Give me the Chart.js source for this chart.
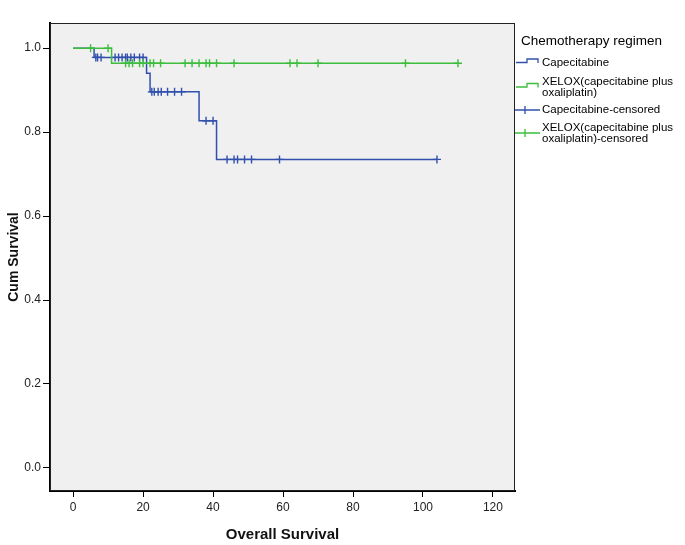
<!DOCTYPE html>
<html>
<head>
<meta charset="utf-8">
<script src="https://cdn.jsdelivr.net/npm/chart.js@4"></script>
<style>
  body { margin: 0; background: #fff; }
  #wrap { width: 685px; height: 545px; }
</style>
</head>
<body>
<div id="wrap"><canvas id="kmChart" width="685" height="545"></canvas></div>
<script>
// Данные кривых Каплана-Мейера
const timeTicks = [0, 20, 40, 60, 80, 100, 120];
const survivalTicks = [0, 0.2, 0.4, 0.6, 0.8, 1.0];

const capeTimes = [0, 6, 21, 22, 36, 41, 104];
const capeSurvival = [1, 0.978, 0.940, 0.896, 0.827, 0.735, 0.735];
const capeCensored = [6.5, 7, 8, 12, 13, 14, 15, 15.5, 16.5, 17.5, 19, 20,
    22.5, 23.2, 24.3, 25.2, 27, 29, 31, 38, 40, 44, 46, 47, 49, 51, 59, 104];

const xeloxTimes = [0, 11, 110];
const xeloxSurvival = [1, 0.964, 0.964];
const xeloxCensored = [5, 10, 15, 16, 17, 19, 20, 22, 23, 25, 32, 34, 36, 38, 39, 41, 46, 62, 64, 70, 95, 110];

const legendTitle = 'Chemotherapy regimen';
const legendItems = [
    { lines: ['Capecitabine'], kind: 'step', color: '#3150ad' },
    { lines: ['XELOX(capecitabine plus', 'oxaliplatin)'], kind: 'step', color: '#3dbd3d' },
    { lines: ['Capecitabine-censored'], kind: 'cross', color: '#3150ad' },
    { lines: ['XELOX(capecitabine plus', 'oxaliplatin)-censored'], kind: 'cross', color: '#3dbd3d' }
];

const BLUE = '#3150ad';
const GREEN = '#3dbd3d';
const FONT = "'Liberation Sans', Arial, sans-serif";

function stepPoints(times, surv) {
    return times.map((t, i) => ({ x: t, y: surv[i] }));
}

// значение кривой в момент цензурирования
function survivalAt(times, surv, t) {
    let s = surv[0];
    for (let i = 0; i < times.length; i++) {
        if (times[i] <= t) s = surv[i];
    }
    return s;
}

function censorPoints(censored, times, surv) {
    return censored.map(t => ({ x: t, y: survivalAt(times, surv, t) }));
}

// фон и рамка области графика
const plotFrame = {
    id: 'plotFrame',
    beforeDatasetsDraw(chart) {
        const { ctx, chartArea: a } = chart;
        ctx.save();
        ctx.fillStyle = '#f0f0f0';
        ctx.fillRect(a.left, a.top, a.right - a.left, a.bottom - a.top);
        ctx.strokeStyle = '#222';
        ctx.lineWidth = 1;
        ctx.strokeRect(a.left + 0.5, a.top + 0.5, a.right - a.left - 1, a.bottom - a.top - 1);
        ctx.restore();
    }
};

// легенда справа, как в SPSS
const sideLegend = {
    id: 'sideLegend',
    afterDraw(chart) {
        const ctx = chart.ctx;
        ctx.save();
        ctx.fillStyle = '#000';
        ctx.textBaseline = 'middle';
        ctx.font = '13.5px ' + FONT;
        ctx.fillText(legendTitle, 521, 41);

        ctx.font = '11.5px ' + FONT;
        const rowY = [63, 82, 110, 127.5];
        legendItems.forEach((item, i) => {
            const y = rowY[i];
            const mid = y + (item.lines.length - 1) * 5.5;
            ctx.strokeStyle = item.color;
            ctx.lineWidth = 1.3;
            ctx.beginPath();
            if (item.kind === 'step') {
                const top = mid - 4;
                ctx.moveTo(516, top + 3.5);
                ctx.lineTo(527, top + 3.5);
                ctx.lineTo(527, top);
                ctx.lineTo(538, top);
                ctx.lineTo(538, top + 4);
            } else {
                ctx.moveTo(515, mid);
                ctx.lineTo(540, mid);
                ctx.moveTo(525, mid - 4);
                ctx.lineTo(525, mid + 4);
            }
            ctx.stroke();
            item.lines.forEach((line, j) => {
                ctx.fillText(line, 542, y + j * 11);
            });
        });
        ctx.restore();
    }
};

const ctx = document.getElementById('kmChart').getContext('2d');
new Chart(ctx, {
    type: 'line',
    data: {
        datasets: [
            {
                label: 'XELOX(capecitabine plus oxaliplatin)',
                data: stepPoints(xeloxTimes, xeloxSurvival),
                borderColor: GREEN,
                borderWidth: 1.5,
                stepped: true,
                pointRadius: 0,
                fill: false,
                order: 0
            },
            {
                label: 'XELOX(capecitabine plus oxaliplatin)-censored',
                type: 'scatter',
                data: censorPoints(xeloxCensored, xeloxTimes, xeloxSurvival),
                pointStyle: 'cross',
                pointRadius: 4,
                borderColor: GREEN,
                borderWidth: 1.4,
                order: 1
            },
            {
                label: 'Capecitabine',
                data: stepPoints(capeTimes, capeSurvival),
                borderColor: BLUE,
                borderWidth: 1.5,
                stepped: true,
                pointRadius: 0,
                fill: false,
                order: 2
            },
            {
                label: 'Capecitabine-censored',
                type: 'scatter',
                data: censorPoints(capeCensored, capeTimes, capeSurvival),
                pointStyle: 'cross',
                pointRadius: 4,
                borderColor: BLUE,
                borderWidth: 1.4,
                order: 3
            }
        ]
    },
    options: {
        responsive: false,
        animation: false,
        layout: { padding: { top: 23, right: 170, bottom: 0, left: 0 } },
        plugins: {
            legend: { display: false },
            tooltip: { enabled: false }
        },
        scales: {
            x: {
                type: 'linear',
                min: -6.6,
                max: 126.3,
                afterFit: s => { s.height = 54; },
                afterBuildTicks: s => { s.ticks = timeTicks.map(v => ({ value: v })); },
                grid: { drawOnChartArea: false, color: '#000', tickLength: 6 },
                border: { color: '#000', width: 2 },
                ticks: { color: '#222', font: { size: 12, family: FONT }, padding: 3, maxRotation: 0 },
                title: {
                    display: true,
                    text: 'Overall Survival',
                    color: '#111',
                    font: { size: 15, weight: 'bold', family: FONT },
                    padding: { top: 0, bottom: 1 }
                }
            },
            y: {
                type: 'linear',
                min: -0.055,
                max: 1.06,
                afterFit: s => { s.width = 50; },
                afterBuildTicks: s => { s.ticks = survivalTicks.map(v => ({ value: v })); },
                grid: { drawOnChartArea: false, color: '#000', tickLength: 7 },
                border: { color: '#000', width: 2 },
                ticks: {
                    color: '#222',
                    font: { size: 12, family: FONT },
                    padding: 2,
                    callback: v => v.toFixed(1)
                },
                title: {
                    display: true,
                    text: 'Cum Survival',
                    color: '#111',
                    font: { size: 14, weight: 'bold', family: FONT },
                    padding: { top: 6, bottom: 0 }
                }
            }
        }
    },
    plugins: [plotFrame, sideLegend]
});
</script>
</body>
</html>
